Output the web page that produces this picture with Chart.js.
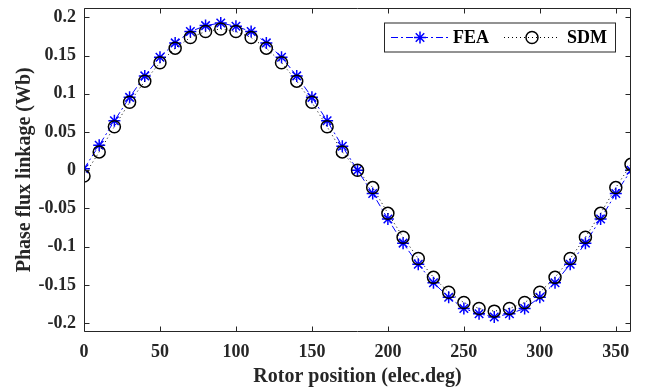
<!DOCTYPE html>
<html>
<head>
<meta charset="utf-8">
<script src="https://cdn.jsdelivr.net/npm/chart.js@4.4.0/dist/chart.umd.min.js"></script>
<style>
  html, body { margin: 0; padding: 0; background: #fff; }
  #wrap { width: 646px; height: 392px; }
</style>
</head>
<body>
<div id="wrap"><canvas id="fluxChart" width="646" height="392"></canvas></div>
<script>
// --- datos ---
const angles = [0, 10, 20, 30, 40, 50, 60, 70, 80, 90, 100, 110, 120, 130, 140, 150, 160, 170, 180,
  190, 200, 210, 220, 230, 240, 250, 260, 270, 280, 290, 300, 310, 320, 330, 340, 350, 360];

const feaValues = [0.002, 0.0327, 0.0647, 0.0954, 0.1235, 0.148, 0.1667, 0.1815, 0.1893, 0.1927,
  0.1884, 0.1815, 0.1667, 0.148, 0.1235, 0.0954, 0.0647, 0.0314, 0.0,
  -0.0305, -0.0637, -0.0954, -0.123, -0.1473, -0.1662, -0.181, -0.1879, -0.1921,
  -0.1879, -0.181, -0.1662, -0.1473, -0.123, -0.0954, -0.0637, -0.0305, 0.0];

const sdmValues = [-0.0075, 0.024, 0.057, 0.0889, 0.1166, 0.1408, 0.1598, 0.1737, 0.1815, 0.1849,
  0.1815, 0.1737, 0.1598, 0.1408, 0.1166, 0.0889, 0.057, 0.024, 0.0,
  -0.0227, -0.0564, -0.0876, -0.1156, -0.1402, -0.1597, -0.1732, -0.181, -0.1844,
  -0.181, -0.1732, -0.1597, -0.1402, -0.1156, -0.0876, -0.0564, -0.0227, 0.0077];

const seriesNames = ['FEA', 'SDM'];
const xTicks = [0, 50, 100, 150, 200, 250, 300, 350];
const yTicks = [-0.2, -0.15, -0.1, -0.05, 0, 0.05, 0.1, 0.15, 0.2];
const xTitle = 'Rotor position (elec.deg)';
const yTitle = 'Phase flux linkage (Wb)';

const FONT = "'Liberation Serif', 'Times New Roman', serif";
const AXIS_COLOR = '#262626';

// caja y marcas hacia adentro, estilo matlab
const axesBox = {
  id: 'axesBox',
  afterDraw(chart) {
    const { ctx, chartArea: a, scales } = chart;
    const L = Math.round(a.left) + 0.5;
    const R = Math.round(a.right) - 0.5;
    const T = Math.round(a.top) + 0.5;
    const B = Math.round(a.bottom) - 0.5;
    const len = 5;
    ctx.save();
    ctx.strokeStyle = AXIS_COLOR;
    ctx.lineWidth = 1;
    ctx.setLineDash([]);
    ctx.beginPath();
    ctx.rect(L, T, R - L, B - T);
    xTicks.forEach((v) => {
      const px = Math.round(scales.x.getPixelForValue(v)) + 0.5;
      ctx.moveTo(px, B); ctx.lineTo(px, B - len);
      ctx.moveTo(px, T); ctx.lineTo(px, T + len);
    });
    yTicks.forEach((v) => {
      const py = Math.round(scales.y.getPixelForValue(v)) + 0.5;
      ctx.moveTo(L, py); ctx.lineTo(L + len, py);
      ctx.moveTo(R, py); ctx.lineTo(R - len, py);
    });
    ctx.stroke();
    ctx.restore();
  },
};

function drawMarker(ctx, style, x, y, r) {
  ctx.beginPath();
  if (style === 'circle') {
    ctx.arc(x, y, r, 0, Math.PI * 2);
  } else {
    const d = r * Math.SQRT1_2;
    ctx.moveTo(x - r, y); ctx.lineTo(x + r, y);
    ctx.moveTo(x, y - r); ctx.lineTo(x, y + r);
    ctx.moveTo(x - d, y - d); ctx.lineTo(x + d, y + d);
    ctx.moveTo(x - d, y + d); ctx.lineTo(x + d, y - d);
  }
  ctx.stroke();
}

// leyenda tipo matlab: línea + marcador + texto
const matlabLegend = {
  id: 'matlabLegend',
  afterDraw(chart) {
    const { ctx, chartArea: a } = chart;
    const boxR = a.right - 16;
    const boxL = boxR - 231;
    const boxT = a.top + 15;
    const boxH = 29;
    const cy = boxT + boxH / 2;
    ctx.save();
    ctx.fillStyle = '#fff';
    ctx.fillRect(boxL + 0.5, boxT + 0.5, boxR - boxL, boxH);
    ctx.strokeStyle = AXIS_COLOR;
    ctx.lineWidth = 1;
    ctx.strokeRect(boxL + 0.5, boxT + 0.5, boxR - boxL, boxH);

    const items = [
      { x0: boxL + 7, x1: boxL + 65, tx: boxL + 69 },
      { x0: boxL + 120, x1: boxL + 176, tx: boxL + 183 },
    ];
    chart.data.datasets.forEach((ds, i) => {
      const it = items[i];
      ctx.strokeStyle = ds.borderColor;
      ctx.lineWidth = ds.borderWidth;
      ctx.setLineDash(ds.borderDash || []);
      ctx.beginPath();
      ctx.moveTo(it.x0, cy + 0.5);
      ctx.lineTo(it.x1, cy + 0.5);
      ctx.stroke();
      ctx.setLineDash([]);
      ctx.fillStyle = '#fff';
      ctx.strokeStyle = ds.pointBorderColor;
      ctx.lineWidth = ds.pointBorderWidth;
      drawMarker(ctx, ds.pointStyle, (it.x0 + it.x1) / 2, cy + 0.5, ds.pointRadius);
      ctx.fillStyle = '#000';
      ctx.font = 'bold 18px ' + FONT;
      ctx.textBaseline = 'middle';
      ctx.textAlign = 'left';
      ctx.fillText(ds.label, it.tx, cy + 1);
    });
    ctx.restore();
  },
};

new Chart(document.getElementById('fluxChart'), {
  type: 'line',
  data: {
    datasets: [
      {
        label: seriesNames[0],
        data: angles.map((a, i) => ({ x: a, y: feaValues[i] })),
        borderColor: '#0000ff',
        borderWidth: 1,
        borderDash: [7, 3, 2, 3],
        pointStyle: 'star',
        pointRadius: 6,
        pointBorderWidth: 1.5,
        pointBorderColor: '#0000ff',
        pointBackgroundColor: 'rgba(0,0,0,0)',
        fill: false,
        tension: 0,
        order: 1,
      },
      {
        label: seriesNames[1],
        data: angles.map((a, i) => ({ x: a, y: sdmValues[i] })),
        borderColor: '#000000',
        borderWidth: 1,
        borderDash: [1, 3],
        pointStyle: 'circle',
        pointRadius: 6,
        pointBorderWidth: 1.5,
        pointBorderColor: '#000000',
        pointBackgroundColor: 'rgba(0,0,0,0)',
        fill: false,
        tension: 0,
        order: 0,
      },
    ],
  },
  options: {
    responsive: false,
    devicePixelRatio: 1,
    animation: false,
    layout: { padding: { top: 5, right: 15, left: 0, bottom: 0 } },
    plugins: {
      legend: { display: false },
      tooltip: { enabled: false },
    },
    scales: {
      x: {
        type: 'linear',
        min: 0,
        max: 360,
        afterBuildTicks(scale) { scale.ticks = xTicks.map((v) => ({ value: v })); },
        afterFit(scale) {
          scale.height = 60;
          scale.paddingLeft = 0;
          scale.paddingRight = 0;
        },
        grid: { display: false, drawTicks: false },
        border: { display: false },
        ticks: {
          color: AXIS_COLOR,
          padding: 10,
          maxRotation: 0,
          font: { family: FONT, size: 18, weight: 'bold' },
          callback: (v) => String(v),
        },
        title: {
          display: true,
          text: xTitle,
          color: AXIS_COLOR,
          padding: { top: 0, bottom: 3 },
          font: { family: FONT, size: 20, weight: 'bold' },
        },
      },
      y: {
        type: 'linear',
        min: -0.2117,
        max: 0.213,
        afterBuildTicks(scale) { scale.ticks = yTicks.map((v) => ({ value: v })); },
        afterFit(scale) {
          scale.width = 84;
          scale.paddingTop = 0;
          scale.paddingBottom = 0;
        },
        grid: { display: false, drawTicks: false },
        border: { display: false },
        ticks: {
          color: AXIS_COLOR,
          padding: 8,
          font: { family: FONT, size: 18, weight: 'bold' },
          callback: (v) => String(v),
        },
        title: {
          display: true,
          text: yTitle,
          color: AXIS_COLOR,
          padding: { top: 13, bottom: 0 },
          font: { family: FONT, size: 20, weight: 'bold' },
        },
      },
    },
  },
  plugins: [axesBox, matlabLegend],
});
</script>
</body>
</html>
